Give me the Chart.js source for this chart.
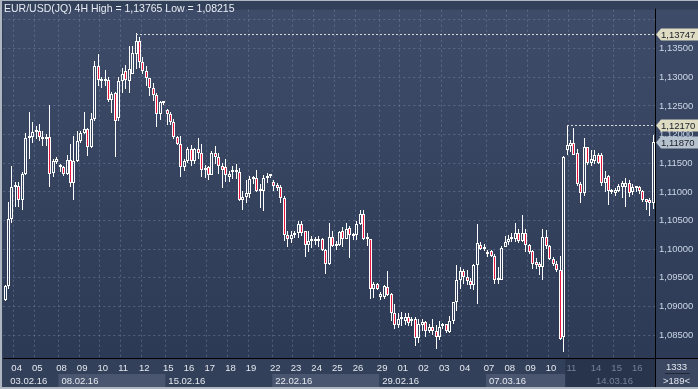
<!DOCTYPE html>
<html>
<head>
<meta charset="utf-8">
<script src="https://cdn.jsdelivr.net/npm/chart.js@4.4.0/dist/chart.umd.min.js"></script>
<style>
  html, body { margin: 0; padding: 0; background: #33405a; }
  canvas { display: block; }
</style>
</head>
<body>
<canvas id="chart" width="698" height="389"></canvas>
<script>
// EUR/USD 4H candles, 03.02.16 12:00 .. 16.03.16 20:00
const opens = [
  1.0912, 1.0935, 1.1052, 1.1109, 1.1110, 1.1086, 1.1131, 1.1194, 1.1196, 1.1205,
  1.1207, 1.1195, 1.1192, 1.1195, 1.1133, 1.1152, 1.1146, 1.1143, 1.1132, 1.1156,
  1.1116, 1.1154, 1.1188, 1.1203, 1.1210, 1.1178, 1.1228, 1.1319, 1.1296, 1.1293,
  1.1296, 1.1260, 1.1272, 1.1229, 1.1294, 1.1310, 1.1294, 1.1305, 1.1341, 1.1363,
  1.1326, 1.1310, 1.1298, 1.1281, 1.1269, 1.1235, 1.1256, 1.1242, 1.1235, 1.1222,
  1.1195, 1.1183, 1.1143, 1.1153, 1.1174, 1.1153, 1.1174, 1.1167, 1.1140, 1.1143,
  1.1129, 1.1168, 1.1161, 1.1145, 1.1143, 1.1126, 1.1134, 1.1134, 1.1134, 1.1086,
  1.1091, 1.1097, 1.1123, 1.1125, 1.1101, 1.1102, 1.1125, 1.1128, 1.1117, 1.1112,
  1.1109, 1.1090, 1.1025, 1.1017, 1.1024, 1.1029, 1.1044, 1.1032, 1.1008, 1.1015,
  1.1015, 1.1018, 1.1018, 1.0999, 1.0975, 1.1022, 1.1005, 1.1008, 1.1032, 1.1017,
  1.1037, 1.1023, 1.1024, 1.1044, 1.1061, 1.1021, 1.1017, 1.0930, 1.0940, 1.0917,
  1.0917, 1.0934, 1.0921, 1.0889, 1.0867, 1.0878, 1.0875, 1.0882, 1.0875, 1.0878,
  1.0845, 1.0868, 1.0873, 1.0858, 1.0865, 1.0858, 1.0846, 1.0866, 1.0869, 1.0855,
  1.0875, 1.0908, 1.0946, 1.0962, 1.0952, 1.0945, 1.0938, 1.0972, 1.1008, 1.1000,
  1.0991, 1.0996, 1.0989, 1.0946, 1.0946, 1.1004, 1.1013, 1.1017, 1.1017, 1.1029,
  1.1015, 1.1029, 1.1007, 1.0996, 1.0977, 1.0975, 1.0969, 1.1021, 1.1005, 1.0983,
  1.0975, 1.0963, 1.0846, 1.1173, 1.1180, 1.1185, 1.1168, 1.1114, 1.1098, 1.1178,
  1.1151, 1.1153, 1.1164, 1.1164, 1.1116, 1.1128, 1.1104, 1.1098, 1.1102, 1.1109,
  1.1109, 1.1115, 1.1100, 1.1106, 1.1108, 1.1102, 1.1087, 1.1086, 1.1081
];
const highs = [
  1.0938, 1.1082, 1.1146, 1.1117, 1.1117, 1.1134, 1.1203, 1.1239, 1.1222, 1.1215,
  1.1219, 1.1206, 1.1201, 1.1252, 1.1157, 1.1160, 1.1149, 1.1145, 1.1165, 1.1183,
  1.1197, 1.1206, 1.1207, 1.1239, 1.1211, 1.1237, 1.1329, 1.1341, 1.1300, 1.1313,
  1.1300, 1.1275, 1.1275, 1.1301, 1.1316, 1.1322, 1.1355, 1.1355, 1.13765, 1.1370,
  1.1335, 1.1320, 1.1299, 1.1290, 1.1272, 1.1258, 1.1258, 1.1244, 1.1240, 1.1227,
  1.1197, 1.1198, 1.1157, 1.1178, 1.1182, 1.1176, 1.1194, 1.1184, 1.1147, 1.1145,
  1.1172, 1.1180, 1.1168, 1.1150, 1.1157, 1.1136, 1.1146, 1.1149, 1.1141, 1.1102,
  1.1120, 1.1127, 1.1127, 1.1139, 1.1113, 1.1130, 1.1133, 1.1130, 1.1120, 1.1115,
  1.1112, 1.1093, 1.1032, 1.1031, 1.1031, 1.1049, 1.1050, 1.1032, 1.1032, 1.1023,
  1.1022, 1.1023, 1.1019, 1.1001, 1.1046, 1.1031, 1.1014, 1.1032, 1.1038, 1.1046,
  1.1041, 1.1028, 1.1049, 1.1068, 1.1068, 1.1028, 1.1017, 1.0942, 1.0941, 1.0926,
  1.0937, 1.0962, 1.0923, 1.0904, 1.0889, 1.0891, 1.0889, 1.0889, 1.0882, 1.0882,
  1.0878, 1.0878, 1.0875, 1.0869, 1.0879, 1.0867, 1.0875, 1.0871, 1.0870, 1.0884,
  1.0908, 1.0973, 1.0969, 1.0965, 1.0964, 1.0950, 1.0975, 1.1044, 1.1012, 1.1009,
  1.0998, 1.0998, 1.0991, 1.0969, 1.1006, 1.1023, 1.1025, 1.1029, 1.1045, 1.1035,
  1.1060, 1.1035, 1.1009, 1.0998, 1.0985, 1.0978, 1.1036, 1.1034, 1.1007, 1.0986,
  1.0980, 1.0989, 1.1163, 1.1217, 1.1191, 1.1211, 1.1175, 1.1118, 1.1194, 1.1179,
  1.1173, 1.1173, 1.1167, 1.1167, 1.1137, 1.1129, 1.1105, 1.1107, 1.1113, 1.1119,
  1.1125, 1.1120, 1.1113, 1.1111, 1.1110, 1.1104, 1.1088, 1.1090, 1.1200
];
const lows = [
  1.0909, 1.0930, 1.1046, 1.1074, 1.1074, 1.1068, 1.1129, 1.1157, 1.1186, 1.1193,
  1.1189, 1.1180, 1.1180, 1.1109, 1.1126, 1.1148, 1.1135, 1.1128, 1.1130, 1.1109,
  1.1085, 1.1152, 1.1186, 1.1201, 1.1162, 1.1177, 1.1224, 1.1285, 1.1282, 1.1284,
  1.1256, 1.1237, 1.1160, 1.1223, 1.1272, 1.1280, 1.1272, 1.1305, 1.1314, 1.1316,
  1.1305, 1.1285, 1.1268, 1.1259, 1.1213, 1.1225, 1.1252, 1.1216, 1.1216, 1.1193,
  1.1181, 1.1126, 1.1136, 1.1150, 1.1146, 1.1148, 1.1158, 1.1126, 1.1124, 1.1120,
  1.1129, 1.1148, 1.1131, 1.1106, 1.1118, 1.1118, 1.1123, 1.1122, 1.1084, 1.1068,
  1.1080, 1.1090, 1.1113, 1.1099, 1.1071, 1.1066, 1.1115, 1.1125, 1.1102, 1.1102,
  1.1081, 1.1015, 1.1004, 1.1011, 1.1020, 1.1020, 1.1023, 1.0987, 1.0995, 1.1002,
  1.1007, 1.1003, 1.0997, 1.0957, 1.0973, 1.1003, 1.0999, 1.1006, 1.1003, 1.1017,
  1.0984, 1.1016, 1.1016, 1.1043, 1.1016, 1.1005, 1.0913, 1.0915, 1.0929, 1.0912,
  1.0913, 1.0919, 1.0875, 1.0860, 1.0862, 1.0866, 1.0868, 1.0866, 1.0866, 1.0832,
  1.0836, 1.0858, 1.0846, 1.0853, 1.0850, 1.0826, 1.0841, 1.0860, 1.0854, 1.0853,
  1.0870, 1.0892, 1.0931, 1.0940, 1.0937, 1.0930, 1.0928, 1.0904, 1.0998, 1.0996,
  1.0987, 1.0986, 1.0940, 1.0940, 1.0946, 1.1003, 1.1008, 1.1012, 1.1012, 1.1011,
  1.1012, 1.0995, 1.0992, 1.0966, 1.0966, 1.0955, 1.0946, 1.1001, 1.0981, 1.0970,
  1.0961, 1.0841, 1.08215, 1.1165, 1.1170, 1.1165, 1.1110, 1.1081, 1.1093, 1.1147,
  1.1146, 1.1148, 1.1148, 1.1111, 1.1100, 1.1077, 1.1097, 1.1093, 1.1099, 1.1090,
  1.1074, 1.1091, 1.1094, 1.1099, 1.1096, 1.1083, 1.1068, 1.1058, 1.1070
];
const closes = [
  1.0935, 1.1052, 1.1109, 1.1112, 1.1086, 1.1132, 1.1194, 1.1197, 1.1205, 1.1208,
  1.1195, 1.1192, 1.1195, 1.1132, 1.1153, 1.1158, 1.1143, 1.1132, 1.1155, 1.1116,
  1.1153, 1.1189, 1.1203, 1.1210, 1.1178, 1.1228, 1.1319, 1.1296, 1.1293, 1.1296,
  1.1260, 1.1271, 1.1223, 1.1294, 1.1305, 1.1295, 1.1315, 1.1343, 1.1363, 1.1326,
  1.1310, 1.1298, 1.1281, 1.1269, 1.1235, 1.1256, 1.1255, 1.1235, 1.1222, 1.1195,
  1.1183, 1.1143, 1.1153, 1.1174, 1.1153, 1.1174, 1.1167, 1.1138, 1.1138, 1.1129,
  1.1168, 1.1161, 1.1145, 1.1138, 1.1129, 1.1131, 1.1138, 1.1138, 1.1086, 1.1091,
  1.1098, 1.1123, 1.1125, 1.1102, 1.1104, 1.1125, 1.1128, 1.1127, 1.1110, 1.1107,
  1.1090, 1.1025, 1.1017, 1.1025, 1.1029, 1.1044, 1.1029, 1.1008, 1.1015, 1.1018,
  1.1018, 1.1015, 1.0999, 1.0975, 1.1022, 1.1006, 1.1008, 1.1030, 1.1017, 1.1036,
  1.1024, 1.1025, 1.1044, 1.1061, 1.1018, 1.1018, 1.0930, 1.0939, 1.0931, 1.0922,
  1.0935, 1.0920, 1.0889, 1.0867, 1.0879, 1.0880, 1.0882, 1.0872, 1.0877, 1.0845,
  1.0870, 1.0873, 1.0858, 1.0865, 1.0858, 1.0846, 1.0864, 1.0869, 1.0858, 1.0875,
  1.0908, 1.0946, 1.0962, 1.0952, 1.0945, 1.0938, 1.0972, 1.1010, 1.1000, 1.1002,
  1.0995, 1.0989, 1.0946, 1.0950, 1.1002, 1.1013, 1.1018, 1.1018, 1.1029, 1.1015,
  1.1029, 1.1007, 1.0995, 1.0974, 1.0973, 1.0969, 1.1021, 1.1005, 1.0983, 1.0975,
  1.0963, 1.0844, 1.1160, 1.1181, 1.1185, 1.1165, 1.1114, 1.1098, 1.1178, 1.1151,
  1.1157, 1.1164, 1.1151, 1.1116, 1.1124, 1.1102, 1.1100, 1.1104, 1.1110, 1.1115,
  1.1115, 1.1098, 1.1108, 1.1108, 1.1102, 1.1086, 1.1083, 1.1081, 1.1187
];

// axis labels
const dayTicks  = ['04','05','08','09','10','11','12','15','16','17','18','19','22','23','24','25','26',
                   '29','01','02','03','04','07','08','09','10','11','14','15','16'];
const dayStarts = [3, 9, 16, 22, 28, 34, 40, 47, 53, 59, 65, 71, 78, 84, 90, 96, 102,
                   109, 115, 121, 127, 133, 140, 146, 152, 158, 164, 171, 177, 183];
const weekTicks  = ['03.02.16', '08.02.16', '15.02.16', '22.02.16', '29.02.16', '07.03.16', '14.03.16'];
const weekStarts = [0, 16, 47, 78, 109, 140, 171];
const yTicks      = [1.085, 1.09, 1.095, 1.10, 1.105, 1.11, 1.115, 1.12, 1.125, 1.13, 1.135, 1.14];
const yTickLabels = ['1,08500', '1,09000', '1,09500', '1,10000', '1,10500', '1,11000',
                     '1,11500', '1,12000', '1,12500', '1,13000', '1,13500', ''];

const title = 'EUR/USD(JQ) 4H High = 1,13765 Low = 1,08215';
const askLevel = 1.13747, askFrom = 38;
const highLevel = 1.12170, highFrom = 163;
const lastLevel = 1.11870;
const dimFrom = 163;

const UP = '#ffffff', DOWN = '#e8163c';
const GRID = 'rgba(128,144,172,0.45)';
const FONT = 'Arial, "Liberation Sans", sans-serif';

const barLabels = opens.map((_, i) => String(i));
const dayAt = {};
dayStarts.forEach((s, k) => { dayAt[s] = dayTicks[k]; });

const upperWick = opens.map((o, i) => [Math.max(o, closes[i]), highs[i]]);
const lowerWick = opens.map((o, i) => [lows[i], Math.min(o, closes[i])]);
const bodies = opens.map((o, i) => [o, closes[i]]);

Chart.defaults.font.family = FONT;

// put candles on whole pixels so they stay crisp
const snap = {
  id: 'snap',
  beforeDatasetsDraw(chart) {
    chart.data.datasets.forEach((ds, i) => {
      chart.getDatasetMeta(i).data.forEach(el => {
        el.x = Math.floor(el.x) + 0.5;
        el.y = Math.round(el.y);
        el.base = Math.round(el.base);
      });
    });
  }
};

const frame = {
  id: 'frame',
  beforeDraw(chart) {
    const { ctx, chartArea: a, scales: { x } } = chart;
    const W = chart.width, H = chart.height;
    const half = (x.getPixelForValue(1) - x.getPixelForValue(0)) / 2;
    const edge = i => x.getPixelForValue(i) - half;
    ctx.save();
    ctx.fillStyle = '#33405a';
    ctx.fillRect(0, 0, W, H);
    const g = ctx.createLinearGradient(0, a.top, 0, a.bottom);
    g.addColorStop(0, '#3f4c69');
    g.addColorStop(1, '#2d3a55');
    ctx.fillStyle = g;
    ctx.fillRect(a.left, a.top, W - a.left, a.bottom - a.top);
    // week boxes
    ctx.fillStyle = '#4a566f';
    for (let k = 1; k < weekStarts.length - 1; k += 2) {
      const x0 = edge(weekStarts[k]);
      const x1 = Math.min(edge(weekStarts[k + 1]), edge(dimFrom));
      ctx.fillRect(x0, a.bottom + 16, x1 - x0, H - a.bottom - 18);
    }
    ctx.fillStyle = '#28344c';
    ctx.fillRect(edge(dimFrom), a.bottom, a.right - edge(dimFrom), H - a.bottom - 2);
    ctx.fillStyle = '#3b4761';
    ctx.fillRect(a.right, a.bottom, W - a.right, H - a.bottom);
    ctx.restore();
  },
  afterDraw(chart) {
    const { ctx, chartArea: a, scales: { x, y } } = chart;
    const W = chart.width, H = chart.height;
    const half = (x.getPixelForValue(1) - x.getPixelForValue(0)) / 2;
    ctx.save();

    // week labels
    ctx.font = '9.5px ' + FONT;
    ctx.textBaseline = 'middle';
    ctx.textAlign = 'left';
    weekTicks.forEach((t, k) => {
      const s = weekStarts[k];
      const px = k === 0 ? a.left + 7 : x.getPixelForValue(s) - half + 3;
      ctx.fillStyle = s >= dimFrom ? '#74819a' : '#e4e9f0';
      ctx.fillText(t, px, a.bottom + 23);
    });

    // axis lines
    ctx.fillStyle = '#000000';
    ctx.fillRect(a.left, a.bottom, W - a.left, 1);
    ctx.fillRect(a.right, a.top - 1, 1, H - a.top - 1);

    // dashed level lines
    ctx.strokeStyle = '#d6d9de';
    ctx.lineWidth = 1;
    ctx.setLineDash([2, 2]);
    [[askLevel, askFrom], [highLevel, highFrom]].forEach(([lv, from]) => {
      const py = Math.round(y.getPixelForValue(lv)) + 0.5;
      ctx.beginPath();
      ctx.moveTo(Math.floor(x.getPixelForValue(from)), py);
      ctx.lineTo(a.right, py);
      ctx.stroke();
    });
    ctx.setLineDash([]);

    // price tags
    const tag = (lv, fill) => {
      const py = Math.round(y.getPixelForValue(lv));
      const x0 = a.right + 1, h = 12;
      ctx.beginPath();
      ctx.moveTo(x0, py + 0.5);
      ctx.lineTo(x0 + 5, py - h / 2 + 0.5);
      ctx.lineTo(W, py - h / 2 + 0.5);
      ctx.lineTo(W, py + h / 2 + 0.5);
      ctx.lineTo(x0 + 5, py + h / 2 + 0.5);
      ctx.closePath();
      ctx.fillStyle = fill;
      ctx.fill();
      ctx.fillStyle = '#1a1e28';
      ctx.font = '9.5px ' + FONT;
      ctx.textAlign = 'left';
      ctx.textBaseline = 'middle';
      ctx.fillText(lv.toFixed(5).replace('.', ','), x0 + 5, py + 1);
    };
    tag(askLevel, '#dedcc3');
    tag(highLevel, '#dedcc3');
    tag(lastLevel, '#b7c2cf');

    // title
    ctx.fillStyle = '#e8edf4';
    ctx.font = '10.5px ' + FONT;
    ctx.textAlign = 'left';
    ctx.textBaseline = 'middle';
    ctx.fillText(title, 4, 9);

    // bar counter box
    ctx.textAlign = 'center';
    ctx.font = '9.5px ' + FONT;
    ctx.fillStyle = '#e4e9f0';
    const cx = (a.right + W) / 2;
    ctx.fillText('1333', cx, a.bottom + 9);
    ctx.fillStyle = '#1e2638';
    ctx.fillRect(a.right + 10, a.bottom + 15, W - a.right - 18, 1);
    ctx.fillStyle = '#e4e9f0';
    ctx.fillText('>189<', cx, a.bottom + 23);

    // outer frame
    ctx.fillStyle = '#aeb6c2';
    ctx.fillRect(0, 0, W, 1);
    ctx.fillRect(0, 0, 2, H);
    ctx.fillRect(0, H - 2, W, 2);
    ctx.restore();
  }
};

new Chart(document.getElementById('chart'), {
  type: 'bar',
  data: {
    labels: barLabels,
    datasets: [
      { data: upperWick, backgroundColor: UP, borderWidth: 0, barThickness: 1, maxBarThickness: 1 },
      { data: lowerWick, backgroundColor: UP, borderWidth: 0, barThickness: 1, maxBarThickness: 1 },
      {
        data: bodies,
        backgroundColor: c => closes[c.dataIndex] >= opens[c.dataIndex] ? 'rgba(0,0,0,0)' : DOWN,
        borderColor: UP,
        borderWidth: 1,
        borderSkipped: false,
        barThickness: 3,
        maxBarThickness: 3,
        minBarLength: 2
      }
    ]
  },
  options: {
    responsive: false,
    animation: false,
    events: [],
    layout: { padding: { left: 2, top: 2, right: 0, bottom: 2 } },
    datasets: { bar: { grouped: false, inflateAmount: 0 } },
    plugins: { legend: { display: false }, tooltip: { enabled: false }, title: { display: false } },
    scales: {
      x: {
        type: 'category',
        offset: true,
        grid: {
          offset: true,
          drawTicks: false,
          color: c => dayAt[c.index] !== undefined ? GRID : 'rgba(0,0,0,0)'
        },
        border: { display: false, dash: [2, 3] },
        ticks: {
          autoSkip: false,
          maxRotation: 0,
          minRotation: 0,
          align: 'start',
          labelOffset: -4,
          padding: 5,
          font: { size: 9.5 },
          color: c => c.index >= dimFrom ? '#74819a' : '#e4e9f0',
          callback: (v, i) => dayAt[i] !== undefined ? dayAt[i] : ''
        },
        afterFit: s => { s.height = 29; }
      },
      y: {
        position: 'right',
        min: 1.08102,
        max: 1.14178,
        grid: { drawTicks: false, color: GRID },
        border: { display: false, dash: [2, 3] },
        ticks: {
          padding: 4,
          font: { size: 9.5 },
          color: '#cbd6e6',
          callback: (v, i) => yTickLabels[i]
        },
        afterBuildTicks: s => { s.ticks = yTicks.map(v => ({ value: v })); },
        afterFit: s => { s.width = 43; }
      }
    }
  },
  plugins: [snap, frame]
});
</script>
</body>
</html>
